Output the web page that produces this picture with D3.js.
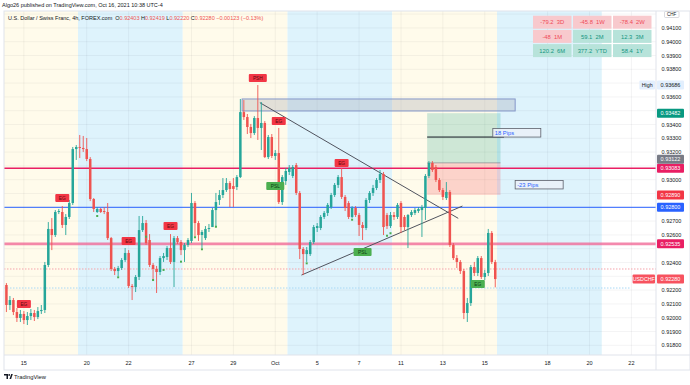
<!DOCTYPE html>
<html><head><meta charset="utf-8">
<script src="https://cdn.jsdelivr.net/npm/d3@7"></script>
<style>
body{margin:0;background:#fff;}
svg{display:block;font-family:"Liberation Sans",Arial,sans-serif;}
</style></head><body><div id="chart"></div>
<script>
// USDCHF 4h candles, [open, high, low, close], first bar is index -21 (Sep 15)
const firstBar = -21;
const ohlc = [
  [0.92237,0.92251,0.92041,0.92092],[0.92092,0.92157,0.92056,0.92128],[0.92128,0.92143,0.92019,0.92041],
  [0.92041,0.92070,0.91969,0.91998],[0.91998,0.92056,0.91969,0.92027],[0.92027,0.92048,0.91954,0.91983],
  [0.91983,0.92041,0.91947,0.92012],[0.92012,0.92063,0.91983,0.92034],[0.92034,0.92056,0.91976,0.92005],
  [0.92005,0.92077,0.91990,0.92048],[0.92048,0.92092,0.92027,0.92056],[0.92056,0.92404,0.92034,0.92382],
  [0.92382,0.92693,0.92367,0.92643],[0.92643,0.92722,0.92490,0.92599],[0.92599,0.92780,0.92585,0.92766],
  [0.92766,0.92788,0.92751,0.92773],[0.92766,0.92809,0.92650,0.92672],[0.92672,0.92751,0.92599,0.92730],
  [0.92730,0.92853,0.92715,0.92831],[0.92831,0.93237,0.92817,0.93222],[0.93222,0.93251,0.93143,0.93237],
  // week of Sep 20
  [0.93237,0.93324,0.93157,0.93230],[0.93230,0.93317,0.93201,0.93222],[0.93222,0.93302,0.93135,0.93150],
  [0.93150,0.93164,0.92845,0.92860],[0.92860,0.92867,0.92766,0.92788],[0.92766,0.92802,0.92759,0.92788],
  [0.92788,0.92795,0.92759,0.92766],[0.92773,0.92802,0.92751,0.92766],[0.92766,0.92831,0.92563,0.92577],
  [0.92577,0.92585,0.92338,0.92353],[0.92353,0.92367,0.92309,0.92338],[0.92338,0.92375,0.92302,0.92360],
  [0.92360,0.92432,0.92346,0.92418],[0.92418,0.92505,0.92404,0.92469],[0.92469,0.92490,0.92215,0.92230],
  [0.92230,0.92244,0.92128,0.92222],[0.92222,0.92309,0.92186,0.92295],[0.92295,0.92737,0.92273,0.92635],
  [0.92635,0.92737,0.92621,0.92686],[0.92686,0.92708,0.92527,0.92541],[0.92563,0.92606,0.92367,0.92382],
  [0.92382,0.92396,0.92273,0.92353],[0.92353,0.92375,0.92179,0.92331],[0.92331,0.92447,0.92309,0.92432],
  [0.92432,0.92469,0.92404,0.92447],[0.92440,0.92519,0.92418,0.92505],[0.92505,0.92606,0.92389,0.92404],
  [0.92404,0.92592,0.92222,0.92577],[0.92577,0.92592,0.92534,0.92548],[0.92548,0.92563,0.92454,0.92490],
  // week of Sep 27
  [0.92490,0.92541,0.92404,0.92527],[0.92527,0.92577,0.92512,0.92563],[0.92556,0.92904,0.92541,0.92831],
  [0.92831,0.92845,0.92592,0.92686],[0.92686,0.92701,0.92556,0.92599],[0.92599,0.92635,0.92505,0.92621],
  [0.92577,0.92664,0.92563,0.92643],[0.92643,0.92679,0.92621,0.92650],[0.92657,0.92795,0.92657,0.92780],
  [0.92780,0.92904,0.92657,0.92838],[0.92853,0.92925,0.92817,0.92889],[0.92889,0.93012,0.92867,0.92925],
  [0.92925,0.93012,0.92911,0.92976],[0.92976,0.92990,0.92802,0.92933],[0.92954,0.93012,0.92802,0.92933],
  [0.92947,0.93034,0.92925,0.93019],[0.93019,0.93585,0.93012,0.93490],[0.93490,0.93577,0.93433,0.93454],
  [0.93454,0.93476,0.93331,0.93382],[0.93382,0.93404,0.93302,0.93338],[0.93338,0.93461,0.93324,0.93447],
  [0.93447,0.93686,0.93288,0.93375],[0.93375,0.93563,0.93215,0.93411],[0.93411,0.93425,0.93157,0.93164],
  [0.93164,0.93324,0.93150,0.93309],[0.93309,0.93331,0.93157,0.93172],[0.93172,0.93215,0.93143,0.93193],
  [0.93193,0.93375,0.92824,0.92838],[0.92838,0.93034,0.92817,0.93019],[0.92990,0.93085,0.92962,0.93063],
  // week of Oct 4
  [0.93056,0.93106,0.93034,0.93085],[0.93027,0.93106,0.93012,0.93092],[0.93106,0.93121,0.92889,0.92904],
  [0.92904,0.92918,0.92425,0.92498],[0.92498,0.92512,0.92309,0.92461],[0.92461,0.92512,0.92404,0.92490],
  [0.92461,0.92563,0.92447,0.92548],[0.92548,0.92672,0.92534,0.92657],[0.92650,0.92686,0.92621,0.92664],
  [0.92650,0.92744,0.92635,0.92730],[0.92730,0.92773,0.92715,0.92759],[0.92759,0.92831,0.92737,0.92817],
  [0.92802,0.92904,0.92788,0.92889],[0.92889,0.92976,0.92875,0.92962],[0.92962,0.93034,0.92940,0.93019],
  [0.93019,0.93085,0.92860,0.92875],[0.92875,0.92889,0.92773,0.92795],[0.92831,0.92845,0.92715,0.92730],
  [0.92730,0.92809,0.92722,0.92795],[0.92795,0.92809,0.92730,0.92744],[0.92744,0.92759,0.92592,0.92672],
  [0.92672,0.92693,0.92563,0.92650],[0.92650,0.92867,0.92635,0.92853],[0.92853,0.92918,0.92831,0.92904],
  [0.92904,0.92962,0.92882,0.92940],[0.92940,0.93012,0.92925,0.92998],[0.92998,0.93070,0.92976,0.93041],
  [0.93041,0.93056,0.92599,0.92657],[0.92744,0.92759,0.92643,0.92664],[0.92664,0.92766,0.92650,0.92744],
  // week of Oct 11
  [0.92744,0.92766,0.92708,0.92730],[0.92730,0.92831,0.92715,0.92817],[0.92831,0.92845,0.92614,0.92657],
  [0.92730,0.92744,0.92635,0.92657],[0.92657,0.92751,0.92505,0.92744],[0.92744,0.92780,0.92730,0.92766],
  [0.92759,0.92795,0.92744,0.92780],[0.92773,0.92802,0.92759,0.92788],[0.92780,0.92817,0.92585,0.92802],
  [0.92795,0.93041,0.92708,0.93027],[0.93027,0.93135,0.93012,0.93121],[0.93121,0.93135,0.93056,0.93070],
  [0.93092,0.93106,0.92983,0.92998],[0.92998,0.93012,0.92911,0.92925],[0.92925,0.92940,0.92853,0.92875],
  [0.92867,0.92983,0.92853,0.92911],[0.92911,0.92925,0.92512,0.92527],[0.92527,0.92541,0.92418,0.92432],
  [0.92432,0.92454,0.92360,0.92404],[0.92404,0.92418,0.92317,0.92338],[0.92338,0.92353,0.91990,0.92034],
  [0.92034,0.92143,0.91969,0.92106],[0.92106,0.92382,0.92085,0.92367],[0.92367,0.92404,0.92302,0.92324],
  [0.92324,0.92447,0.92302,0.92432],[0.92432,0.92447,0.92280,0.92295],[0.92295,0.92346,0.92273,0.92324],
  [0.92324,0.92643,0.92302,0.92614],[0.92614,0.92628,0.92389,0.92404],[0.92403,0.92419,0.92220,0.92280]
];

// time axis: bar index of each labelled day
const dayBars   = [-16, 2, 14, 32, 44, 56, 68, 80, 92, 104, 116, 134, 146, 158];
const dayLabels = ["15","20","22","27","29","Oct","5","7","11","13","15","18","20","22"];
const weekStarts = [-30, 0, 30, 60, 90, 120];

const priceTicks = d3.range(918, 943).map(v => v / 1000);

// horizontal levels
const levelRed = 0.93083, levelBlue = 0.92800, levelPink = 0.92535;
const dotRed = 0.92353, dotBlue = 0.92215;

// drawings
const zone = {bar0: 47, bar1: 125.2, top: 0.93585, bottom: 0.93498};
const triLines = [[52.1, 0.93558, 108.9, 0.92720], [64.0, 0.92309, 110.1, 0.92809]];
const longPos = {bar0: 100, bar1: 121, entry: 0.93122, target: 0.93482, stop: 0.92890};
const pipLine = {bar0: 100, bar1: 122, price: 0.93309, text: "18 Pips", boxBar: 118.8};
const pipStop = {bar: 125.2, price: 0.92933, text: "-23 Pips"};

// indicator labels [bar, price, text, up?]
const signals = [
  [-16, 0.92099, "EG", false], [-5, 0.92867, "EG", false], [14, 0.92556, "EG", false],
  [26, 0.92664, "EG", false], [51, 0.93737, "PSH", false], [57, 0.93425, "EG", false],
  [75, 0.93121, "EG", false], [56, 0.92954, "PSL", true], [81, 0.92476, "PSL", true],
  [114, 0.92244, "EG", true]
];
const dots = [[5,0.92737],[11,0.92293],[19,0.92587],[21,0.92273],[24,0.92346],[29,0.92406],
  [33,0.92583],[35,0.92496],[39,0.92659],[65,0.92394],[78,0.92710],[88,0.92594],[89,0.92612]];

// axis price badges
const badges = [
  {price: 0.93686, text: "0.93686", fill: "#e3effd", color: "#131722", tag: "High"},
  {price: 0.93482, text: "0.93482", fill: "#089981", color: "#fff"},
  {price: 0.93122, text: "0.93122", fill: "#787b86", color: "#fff"},
  {price: 0.93083, text: "0.93083", fill: "#e91e63", color: "#fff"},
  {price: 0.92890, text: "0.92890", fill: "#f23645", color: "#fff"},
  {price: 0.92800, text: "0.92800", fill: "#2962ff", color: "#fff"},
  {price: 0.92535, text: "0.92535", fill: "#e91e63", color: "#fff"},
  {price: 0.92280, text: "0.92280", fill: "#f7525f", color: "#fff", tag: "USDCHF"}
];

// performance table
const perfValues = [[-79.2, -45.8, -78.4], [-48, 59.1, 12.3], [120.2, 377.2, 58.4]];
const perfPeriods = [["3D","1W","2W"], ["1M","2M","3M"], ["6M","YTD","1Y"]];

const W = 690, H = 385;
const pane = {left: 4, top: 11, right: 656, bottom: 355};
const svg = d3.select("#chart").append("svg").attr("width", W).attr("height", H);

const x = d3.scaleLinear().domain([0, 120]).range([78, 497]);
const y = d3.scaleLinear().domain([0.918, 0.939]).range([345.3, 55.5]);
const cx = i => x(i + 0.5);

svg.append("defs").append("clipPath").attr("id", "pane")
  .append("rect").attr("x", pane.left).attr("y", pane.top)
  .attr("width", pane.right - pane.left).attr("height", pane.bottom - pane.top);

const g = svg.append("g").attr("clip-path", "url(#pane)");

// weekly background
g.selectAll("rect.week").data(weekStarts).join("rect")
  .attr("x", d => x(d)).attr("y", pane.top)
  .attr("width", x(30) - x(0)).attr("height", pane.bottom - pane.top)
  .attr("fill", (d, k) => k % 2 ? "#def3fc" : "#fffbeb");

// grid
g.selectAll("line.hg").data(priceTicks).join("line")
  .attr("x1", pane.left).attr("x2", pane.right)
  .attr("y1", d => y(d)).attr("y2", d => y(d))
  .attr("stroke", "rgba(42,46,57,0.05)");
g.selectAll("line.vg").data(dayBars).join("line")
  .attr("x1", d => cx(d)).attr("x2", d => cx(d))
  .attr("y1", pane.top).attr("y2", pane.bottom)
  .attr("stroke", "rgba(42,46,57,0.05)");

// dotted lines
g.append("line").attr("x1", pane.left).attr("x2", pane.right)
  .attr("y1", y(dotRed)).attr("y2", y(dotRed))
  .attr("stroke", "#f5a3ab").attr("stroke-dasharray", "1.5,1.5");
g.append("line").attr("x1", pane.left).attr("x2", 630)
  .attr("y1", y(dotBlue)).attr("y2", y(dotBlue))
  .attr("stroke", "#a9d8f5").attr("stroke-dasharray", "1.5,1.5");

// levels
g.append("line").attr("x1", pane.left).attr("x2", pane.right)
  .attr("y1", y(levelPink)).attr("y2", y(levelPink))
  .attr("stroke", "#f06292").attr("stroke-opacity", 0.75).attr("stroke-width", 2.6);
g.append("line").attr("x1", pane.left).attr("x2", pane.right)
  .attr("y1", y(levelBlue)).attr("y2", y(levelBlue))
  .attr("stroke", "#2962ff").attr("stroke-width", 1);
g.append("line").attr("x1", pane.left).attr("x2", pane.right)
  .attr("y1", y(levelRed)).attr("y2", y(levelRed))
  .attr("stroke", "#e91e63").attr("stroke-width", 1.4);

// zone rectangle
g.append("rect").attr("x", x(zone.bar0)).attr("y", y(zone.top))
  .attr("width", x(zone.bar1) - x(zone.bar0)).attr("height", y(zone.bottom) - y(zone.top))
  .attr("fill", "rgba(150,156,170,0.28)").attr("stroke", "#8497c8").attr("stroke-width", 1);

// long position
g.append("rect").attr("x", x(longPos.bar0)).attr("y", y(longPos.target))
  .attr("width", x(longPos.bar1) - x(longPos.bar0)).attr("height", y(longPos.entry) - y(longPos.target))
  .attr("fill", "rgba(8,153,129,0.2)");
g.append("rect").attr("x", x(longPos.bar0)).attr("y", y(longPos.entry))
  .attr("width", x(longPos.bar1) - x(longPos.bar0)).attr("height", y(longPos.stop) - y(longPos.entry))
  .attr("fill", "rgba(242,54,69,0.2)");
g.append("line").attr("x1", x(longPos.bar0)).attr("x2", x(longPos.bar1))
  .attr("y1", y(longPos.entry)).attr("y2", y(longPos.entry))
  .attr("stroke", "rgba(120,123,134,0.6)");

// triangle lines
g.selectAll("line.tri").data(triLines).join("line")
  .attr("x1", d => x(d[0])).attr("y1", d => y(d[1]))
  .attr("x2", d => x(d[2])).attr("y2", d => y(d[3]))
  .attr("stroke", "#50535e").attr("stroke-width", 1);

// candles
const bars = ohlc.map((d, k) => ({i: firstBar + k, o: d[0], h: d[1], l: d[2], c: d[3]}));
const up = "#26a69a", down = "#ef5350";
const cg = g.append("g");
cg.selectAll("line.wick").data(bars).join("line")
  .attr("x1", d => cx(d.i)).attr("x2", d => cx(d.i))
  .attr("y1", d => y(d.h)).attr("y2", d => y(d.l))
  .attr("stroke", d => d.c >= d.o ? up : down).attr("stroke-width", 0.9);
cg.selectAll("rect.body").data(bars).join("rect")
  .attr("x", d => cx(d.i) - 1.25).attr("width", 2.5)
  .attr("y", d => y(Math.max(d.o, d.c)))
  .attr("height", d => Math.max(0.8, Math.abs(y(d.o) - y(d.c))))
  .attr("fill", d => d.c >= d.o ? up : down);

// pip measure line and boxes
g.append("line").attr("x1", x(pipLine.bar0)).attr("x2", x(pipLine.bar1))
  .attr("y1", y(pipLine.price)).attr("y2", y(pipLine.price))
  .attr("stroke", "#131722").attr("stroke-width", 1);
function pipBox(bar, price, text) {
  const bx = x(bar), by = y(price);
  g.append("rect").attr("x", bx).attr("y", by - 8.5).attr("width", 48).attr("height", 8.5)
    .attr("fill", "rgba(235,240,248,0.85)").attr("stroke", "#5d606b").attr("stroke-width", 0.8);
  g.append("text").attr("x", bx + 2).attr("y", by - 2.3).text(text)
    .attr("font-size", 5.8).attr("fill", "#2962ff");
}
pipBox(pipLine.boxBar, pipLine.price, pipLine.text);
pipBox(pipStop.bar, pipStop.price, pipStop.text);

// signal labels
const sg = g.selectAll("g.sig").data(signals).join("g")
  .attr("transform", d => `translate(${cx(d[0])},${y(d[1])})`);
sg.append("rect").attr("x", d => -(d[2].length * 2 + 3)).attr("y", -4)
  .attr("width", d => d[2].length * 4 + 6).attr("height", 8).attr("rx", 1)
  .attr("fill", d => d[3] ? "#4caf50" : "#f23645");
sg.append("text").attr("text-anchor", "middle").attr("y", 1.8)
  .attr("font-size", 4.8).attr("fill", d => d[3] ? "#0d3b12" : "#5a0a0e").text(d => d[2]);

g.selectAll("rect.dot").data(dots).join("rect")
  .attr("x", d => cx(d[0]) - 1).attr("y", d => y(d[1]) - 1)
  .attr("width", 2).attr("height", 2).attr("fill", "#4caf50");

// performance table
const cellW = 38.5, cellH = 13;
perfValues.forEach((row, r) => row.forEach((v, c) => {
  const px = 533 + c * 40, py = 15.7 + r * 14.2;
  const neg = v < 0;
  svg.append("rect").attr("x", px).attr("y", py).attr("width", cellW).attr("height", cellH)
    .attr("fill", neg ? "#f8c9cd" : "#b7e3da");
  svg.append("text").attr("x", px + cellW / 2).attr("y", py + 8.7).attr("text-anchor", "middle")
    .attr("font-size", 5.8).attr("fill", neg ? "#ef4a58" : "#13957f")
    .attr("xml:space", "preserve").text(`${v}  ${perfPeriods[r][c]}`);
}));

// frame
svg.append("rect").attr("x", pane.left).attr("y", pane.top).attr("width", W - pane.left).attr("height", 370 - pane.top)
  .attr("fill", "none").attr("stroke", "#e0e3eb");
svg.append("line").attr("x1", pane.right).attr("x2", pane.right).attr("y1", pane.top).attr("y2", 370)
  .attr("stroke", "#e0e3eb");
svg.append("line").attr("x1", pane.left).attr("x2", W).attr("y1", pane.bottom).attr("y2", pane.bottom)
  .attr("stroke", "#e0e3eb");

// badge positions: push labels up so they do not overlap (as the price scale does)
const badgeH = 9;
const placed = badges.map(d => ({...d, py: y(d.price)})).sort((a, b) => b.py - a.py);
for (let k = 1; k < placed.length; k++) {
  if (placed[k - 1].py - placed[k].py < badgeH) placed[k].py = placed[k - 1].py - badgeH;
}

// price axis ticks, hidden where a badge or the currency tag sits
const tagY = 14.5;
const visibleTicks = priceTicks.filter(p =>
  placed.every(b => Math.abs(y(p) - b.py) > 7) && Math.abs(y(p) - tagY) > 5);
svg.selectAll("text.pt").data(visibleTicks).join("text")
  .attr("x", 671.5).attr("y", d => y(d) + 2).attr("text-anchor", "middle")
  .attr("font-size", 5.5).attr("fill", "#131722").text(d => d.toFixed(5));

const bg = svg.selectAll("g.badge").data(placed).join("g")
  .attr("transform", d => `translate(0,${d.py})`);
bg.append("rect").attr("x", 657).attr("y", -4.5).attr("width", 27).attr("height", badgeH).attr("rx", 1)
  .attr("fill", d => d.fill);
bg.append("text").attr("x", 670.5).attr("y", 2).attr("text-anchor", "middle")
  .attr("font-size", 5.5).attr("fill", d => d.color).text(d => d.text);
const tagged = bg.filter(d => d.tag);
tagged.append("rect").attr("x", d => 655 - d.tag.length * 3.4 - 2).attr("y", -4.5)
  .attr("width", d => d.tag.length * 3.4 + 2).attr("height", badgeH).attr("rx", 1).attr("fill", d => d.fill);
tagged.append("text").attr("x", d => 654 - d.tag.length * 1.7).attr("y", 2).attr("text-anchor", "middle")
  .attr("font-size", 5.3).attr("fill", d => d.color).text(d => d.tag);

// currency tag
svg.append("rect").attr("x", 664.5).attr("y", 11.5).attr("width", 14.5).attr("height", 6).attr("rx", 1)
  .attr("fill", "#fff").attr("stroke", "#b2b5be").attr("stroke-width", 0.5);
svg.append("text").attr("x", 671.7).attr("y", 16.2).attr("text-anchor", "middle")
  .attr("font-size", 4.5).attr("fill", "#131722").text("CHF");

// time axis
svg.selectAll("text.tt").data(dayBars).join("text")
  .attr("x", d => cx(d)).attr("y", 365).attr("text-anchor", "middle")
  .attr("font-size", 5.5).attr("fill", "#131722").text((d, k) => dayLabels[k]);

// titles
svg.append("text").attr("x", 2).attr("y", 7.2).attr("font-size", 5.5).attr("fill", "#131722")
  .text("Algo26 published on TradingView.com, Oct 16, 2021 10:38 UTC-4");
const hdr = svg.append("text").attr("x", 8).attr("y", 19.6).attr("font-size", 5.5).attr("fill", "#131722")
  .attr("xml:space", "preserve");
hdr.append("tspan").text("U.S. Dollar / Swiss Franc, 4h, FOREX.com  ");
[["O", "0.92403"], [" H", "0.92419"], [" L", "0.92220"], [" C", "0.92280"]].forEach(([k, v]) => {
  hdr.append("tspan").text(k);
  hdr.append("tspan").attr("fill", "#ef5350").text(v);
});
hdr.append("tspan").attr("fill", "#ef5350").text(" \u22120.00123 (\u22120.13%)");

// logo
const logo = svg.append("g").attr("transform", "translate(4,374)");
logo.append("path").attr("d", "M0,0H4V5H2.5V1.5H0Z").attr("fill", "#131722");
logo.append("circle").attr("cx", 5.2).attr("cy", 0.9).attr("r", 0.9).attr("fill", "#131722");
logo.append("path").attr("d", "M5.5,5L7.2,0H8.8L7.1,5Z").attr("fill", "#131722");
svg.append("text").attr("x", 14).attr("y", 379).attr("font-size", 5.8).attr("fill", "#131722").text("TradingView");
</script></body></html>
